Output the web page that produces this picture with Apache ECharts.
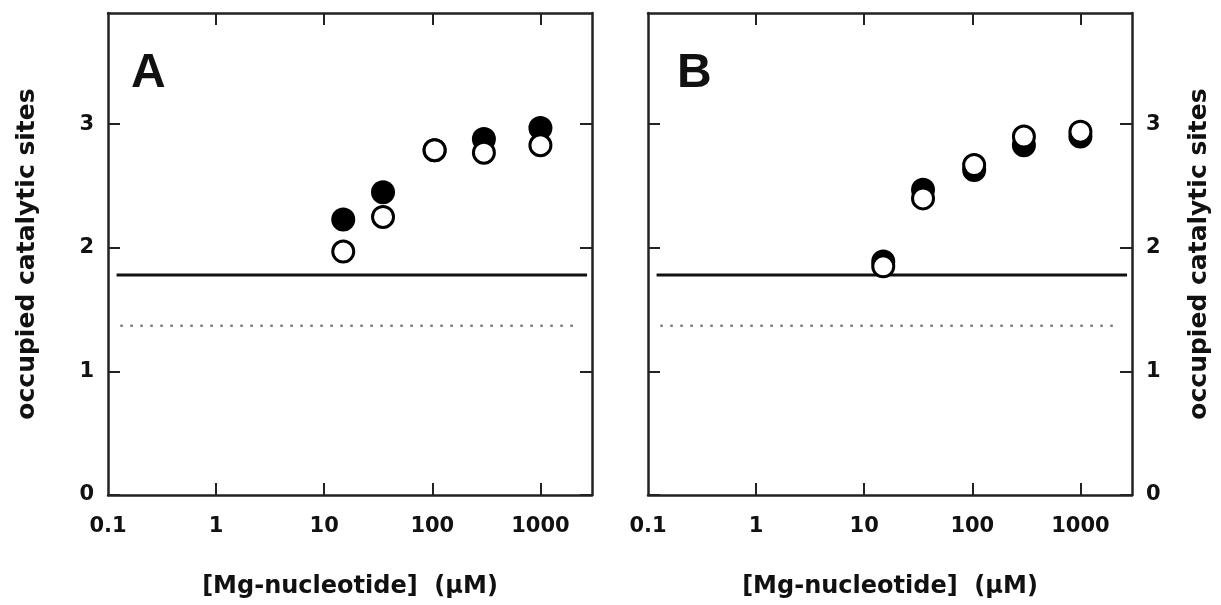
<!DOCTYPE html>
<html>
<head>
<meta charset="utf-8">
<script src="https://cdn.jsdelivr.net/npm/echarts@6/dist/echarts.min.js"></script>
<style>
html,body{margin:0;padding:0;background:#fff;}
#chart{width:1221px;height:605px;}
</style>
</head>
<body>
<div id="chart"></div>
<script>
// ---- data ----
const xTickValues = [0.1, 1, 10, 100, 1000];
const xInnerTicks = [1, 10, 100, 1000];
const yTickValues = [0, 1, 2, 3];
const panelLetters = ['A', 'B'];
const xTitle = '[Mg-nucleotide]  (\u03bcM)';
const yTitle = 'occupied catalytic sites';

const concA = [15, 35, 105, 300, 1000];
const filledA = [2.23, 2.45, 2.79, 2.88, 2.97];
const openA = [1.97, 2.25, 2.79, 2.77, 2.83];

const concB = [15, 35, 104, 300, 1000];
const filledB = [1.89, 2.47, 2.63, 2.83, 2.90];
const openB = [1.85, 2.40, 2.67, 2.90, 2.94];

const solidLevel = 1.78;
const solidSpan = [0.12, 2700];
const dottedLevel = 1.37;
const dottedSpan = [0.13, 2300];

const xMin = 0.1, xMax = 3000, yMin = 0, yMax = 3.9;

// ---- build ----
const FONT = 'DejaVu Sans';
const AX = '#222';
const pairs = (xs, ys) => xs.map((x, i) => [x, ys[i]]);

const grids = [
  {left: 108, top: 13, width: 484, height: 482},
  {left: 648, top: 13, width: 484, height: 482}
];

const tickStyle = {show: true, inside: true, length: 12, lineStyle: {color: AX, width: 2}};
const lineStyleAx = {show: true, onZero: false, lineStyle: {color: AX, width: 2.5}};

function xAxisBottom(gi) {
  return {
    type: 'log', logBase: 10, gridIndex: gi, position: 'bottom',
    min: xMin, max: xMax,
    axisLine: lineStyleAx,
    axisTick: Object.assign({customValues: xInnerTicks}, tickStyle),
    axisLabel: {show: true, customValues: xTickValues, margin: 21,
      fontFamily: FONT, fontWeight: 'bold', fontSize: 21, color: '#111',
      formatter: v => String(v)},
    splitLine: {show: false}, minorTick: {show: false},
    name: xTitle, nameLocation: 'middle', nameGap: 80,
    nameTextStyle: {fontFamily: FONT, fontWeight: 'bold', fontSize: 24, color: '#111'}
  };
}
// top frame edge: same decades, expressed as powers of ten
function xAxisTop(gi) {
  return {
    type: 'value', gridIndex: gi, position: 'top',
    min: Math.log10(xMin), max: Math.log10(xMax),
    axisLine: lineStyleAx,
    axisTick: Object.assign({customValues: xInnerTicks.map(v => Math.log10(v))}, tickStyle),
    axisLabel: {show: false}, splitLine: {show: false}
  };
}
function yAxisDef(gi, pos, labels, named, gap) {
  return {
    type: 'value', gridIndex: gi, position: pos,
    min: yMin, max: yMax,
    axisLine: lineStyleAx,
    axisTick: Object.assign({customValues: yTickValues}, tickStyle),
    axisLabel: labels ? {show: true, customValues: yTickValues, margin: 14,
      fontFamily: FONT, fontWeight: 'bold', fontSize: 21, color: '#111'} : {show: false},
    splitLine: {show: false},
    name: named ? yTitle : '', nameLocation: 'middle', nameRotate: 90, nameGap: gap,
    nameTextStyle: {fontFamily: FONT, fontWeight: 'bold', fontSize: 25, color: '#111'}
  };
}

const xAxes = [xAxisBottom(0), xAxisTop(0), xAxisBottom(1), xAxisTop(1)];
const yAxes = [
  yAxisDef(0, 'left', true, true, 68), yAxisDef(0, 'right', false, false, 0),
  yAxisDef(1, 'left', false, false, 0), yAxisDef(1, 'right', true, true, 55)
];

function panelSeries(xi, yi, conc, filled, open) {
  return [
    {type: 'line', xAxisIndex: xi, yAxisIndex: yi, silent: true, symbol: 'none',
     data: [[solidSpan[0], solidLevel], [solidSpan[1], solidLevel]],
     lineStyle: {color: '#111', width: 3}, z: 1},
    {type: 'line', xAxisIndex: xi, yAxisIndex: yi, silent: true, symbol: 'none',
     data: [[dottedSpan[0], dottedLevel], [dottedSpan[1], dottedLevel]],
     lineStyle: {color: '#7a7a7a', width: 2.5, type: [2.5, 7.5]}, z: 1},
    {type: 'scatter', xAxisIndex: xi, yAxisIndex: yi, symbol: 'circle', symbolSize: 24,
     data: pairs(conc, filled), itemStyle: {color: '#000', opacity: 1}, z: 3},
    {type: 'scatter', xAxisIndex: xi, yAxisIndex: yi, symbol: 'circle', symbolSize: 21,
     data: pairs(conc, open), itemStyle: {color: '#fff', borderColor: '#000', borderWidth: 3, opacity: 1}, z: 4}
  ];
}

const option = {
  animation: false,
  backgroundColor: '#fff',
  grid: grids,
  xAxis: xAxes,
  yAxis: yAxes,
  graphic: [
    {type: 'text', left: 131, top: 50, style: {text: panelLetters[0], font: 'bold 48px "Liberation Sans"', fill: '#111'}},
    {type: 'text', left: 677, top: 50, style: {text: panelLetters[1], font: 'bold 48px "Liberation Sans"', fill: '#111'}}
  ],
  series: [].concat(
    panelSeries(0, 0, concA, filledA, openA),
    panelSeries(2, 3, concB, filledB, openB)
  )
};

const chart = echarts.init(document.getElementById('chart'), null, {renderer: 'canvas'});
chart.setOption(option);
</script>
</body>
</html>
